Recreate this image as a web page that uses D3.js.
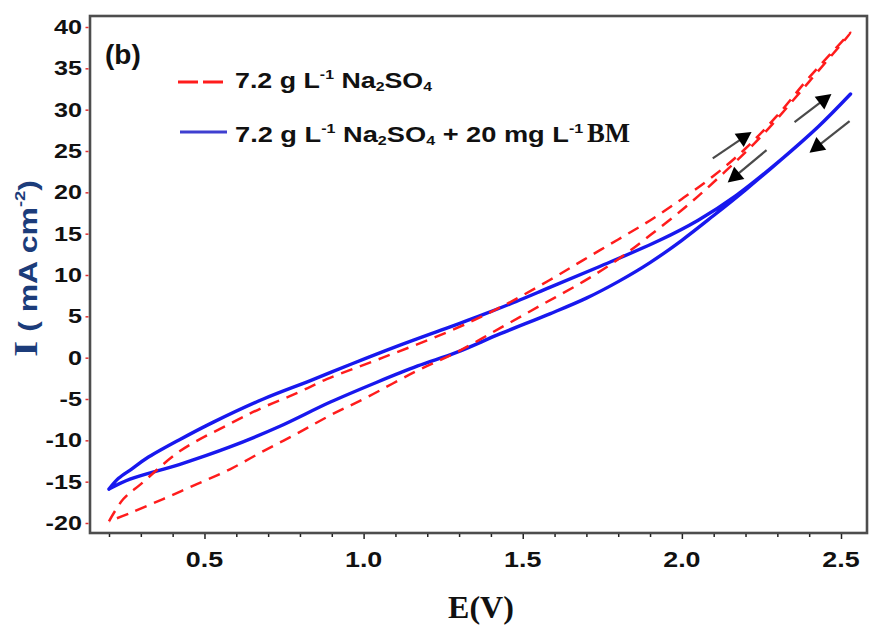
<!DOCTYPE html>
<html>
<head>
<meta charset="utf-8">
<script src="https://cdn.jsdelivr.net/npm/d3@7"></script>
<style>
  html, body { margin: 0; background: #fff; }
  svg { display: block; }
</style>
</head>
<body>
<svg id="chart" width="885" height="634"></svg>
<script>
// Cyclic voltammograms, scan 0.2 V -> 2.53 V -> 0.2 V
// Branch that lies higher at low potential ("upper") and the one lying lower ("lower").
const redUpperE = [0.20, 0.245, 0.30, 0.423, 0.58, 0.685, 0.79, 0.884, 1.06, 1.27, 1.43, 1.585, 1.69, 1.80, 1.90, 2.00, 2.10, 2.20, 2.30, 2.40, 2.53];
const redUpperI = [-19.8, -17.1, -15.3, -11.3, -8.0, -6.0, -4.3, -2.6, 0.0, 3.2, 6.1, 9.4, 11.8, 14.3, 16.6, 19.2, 22.0, 25.3, 29.3, 33.9, 39.3];
const redLowerE = [0.20, 0.266, 0.37, 0.476, 0.58, 0.685, 0.79, 0.894, 1.01, 1.167, 1.29, 1.43, 1.56, 1.69, 1.80, 1.90, 2.02, 2.13, 2.25, 2.40, 2.53];
const redLowerI = [-19.8, -18.8, -17.1, -15.3, -13.5, -11.3, -9.2, -7.0, -4.8, -1.6, 0.6, 3.6, 6.4, 9.2, 11.9, 14.8, 18.5, 22.3, 26.8, 33.4, 39.3];

const blueUpperE = [0.20, 0.23, 0.27, 0.317, 0.423, 0.528, 0.685, 0.831, 0.96, 1.10, 1.27, 1.375, 1.48, 1.585, 1.74, 1.93, 2.05, 2.17, 2.31, 2.43, 2.53];
const blueUpperI = [-15.9, -14.6, -13.5, -12.2, -9.9, -7.8, -5.0, -2.8, -0.8, 1.3, 3.7, 5.2, 6.8, 8.5, 11.0, 14.2, 16.6, 19.6, 23.9, 28.0, 31.9];
const blueLowerE = [0.20, 0.266, 0.423, 0.58, 0.737, 0.894, 1.04, 1.17, 1.29, 1.43, 1.585, 1.70, 1.80, 1.90, 2.00, 2.10, 2.20, 2.31, 2.43, 2.53];
const blueLowerI = [-15.9, -14.7, -12.9, -10.8, -8.3, -5.4, -3.0, -1.0, 0.6, 2.9, 5.3, 7.2, 9.2, 11.5, 14.2, 17.2, 20.3, 23.9, 28.0, 31.9];

// Scan-direction arrows (start -> tip), in E / I units
const arrowFromE = [2.097, 2.266, 2.354, 2.527];
const arrowFromI = [24.1, 25.1, 28.5, 28.6];
const arrowToE   = [2.219, 2.144, 2.470, 2.401];
const arrowToI   = [27.3, 21.2, 31.9, 24.8];

// Axis ticks
const yTicks = [-20, -15, -10, -5, 0, 5, 10, 15, 20, 25, 30, 35, 40];
const xMajorTicks = [0.5, 1.0, 1.5, 2.0, 2.5];
const xMajorLabels = ["0.5", "1.0", "1.5", "2.0", "2.5"];
const xMinorTicks = [0.2, 0.3, 0.4, 0.6, 0.7, 0.8, 0.9, 1.1, 1.2, 1.3, 1.4, 1.6, 1.7, 1.8, 1.9, 2.1, 2.2, 2.3, 2.4];

const RED = "#ff1c1c", BLUE = "#1818ee";

const svg = d3.select("#chart");
const frame = { left: 90, right: 867, top: 16, bottom: 533 };

const x = d3.scaleLinear().domain([0.2, 2.5]).range([109, 841]);
const y = d3.scaleLinear().domain([-20, 40]).range([523, 27]);

const SANS = "'Liberation Sans', Arial, sans-serif";
const SERIF = "'Liberation Serif', 'Times New Roman', serif";

// Sequential rich text: each part is its own <text> so it can be sized/shifted/stretched
function rich(parent, parts, transform, targetLen) {
  const g = parent.append("g");
  let cx = 0;
  parts.forEach(p => {
    const sx = p.sx || 1;
    const t = g.append("text")
      .attr("transform", `translate(${cx},${p.dy || 0}) scale(${sx},1)`)
      .attr("font-family", p.family || SANS)
      .attr("font-weight", p.weight || "bold")
      .attr("font-size", p.size)
      .attr("fill", p.fill || "#111")
      .style("white-space", "pre")
      .attr("xml:space", "preserve")
      .text(p.t);
    cx += t.node().getComputedTextLength() * sx + (p.gap || 0);
  });
  const s = targetLen ? targetLen / cx : 1;
  g.attr("transform", `${transform} scale(${s},1)`);
  return g;
}

// --- curves ---
function loopPoints(upE, upI, loE, loI) {
  const up = upE.map((e, i) => [e, upI[i]]);
  const lo = loE.map((e, i) => [e, loI[i]]).reverse().slice(1);
  return up.concat(lo);
}
const line = d3.line().x(d => x(d[0])).y(d => y(d[1])).curve(d3.curveCatmullRom.alpha(0.5));

svg.append("path")
  .datum(loopPoints(blueUpperE, blueUpperI, blueLowerE, blueLowerI))
  .attr("d", line)
  .attr("fill", "none").attr("stroke", BLUE).attr("stroke-width", 3.4)
  .attr("stroke-linejoin", "round").attr("stroke-linecap", "round");

svg.append("path")
  .datum(loopPoints(redUpperE, redUpperI, redLowerE, redLowerI))
  .attr("d", line)
  .attr("fill", "none").attr("stroke", RED).attr("stroke-width", 2.5)
  .attr("stroke-dasharray", "12,8");

// --- arrows ---
arrowFromE.forEach((e0, i) => {
  const x0 = x(e0), y0 = y(arrowFromI[i]);
  const x1 = x(arrowToE[i]), y1 = y(arrowToI[i]);
  const dx = x1 - x0, dy = y1 - y0, L = Math.hypot(dx, dy);
  const ux = dx / L, uy = dy / L;
  const hl = 15, hw = 8;
  const bx = x1 - ux * hl, by = y1 - uy * hl;
  svg.append("line")
    .attr("x1", x0).attr("y1", y0).attr("x2", bx + ux * 2).attr("y2", by + uy * 2)
    .attr("stroke", "#4a4a4a").attr("stroke-width", 2.2);
  svg.append("path")
    .attr("d", `M${x1},${y1}L${bx - uy * hw},${by + ux * hw}L${bx + uy * hw},${by - ux * hw}Z`)
    .attr("fill", "#000");
});

// --- frame ---
svg.append("rect")
  .attr("x", frame.left).attr("y", frame.top)
  .attr("width", frame.right - frame.left).attr("height", frame.bottom - frame.top)
  .attr("fill", "none").attr("stroke", "#4d4d4d").attr("stroke-width", 2.6);

// --- y axis ticks & labels ---
const yAxis = svg.append("g").attr("transform", `translate(${frame.left - 1.5},0)`)
  .call(d3.axisLeft(y).tickValues(yTicks).tickSize(3).tickFormat(""));
yAxis.select(".domain").remove();
yAxis.selectAll(".tick line").attr("stroke", "#e03030").attr("stroke-width", 1.5);

yTicks.forEach(v => {
  svg.append("text")
    .attr("transform", `translate(82,${y(v) + 7}) scale(1.26,1)`)
    .attr("text-anchor", "end")
    .attr("font-family", SANS).attr("font-weight", "bold").attr("font-size", 20)
    .attr("fill", "#111").text(v);
});

// --- x axis ticks & labels ---
const xMinor = svg.append("g").attr("transform", `translate(0,${frame.bottom + 1})`)
  .call(d3.axisBottom(x).tickValues(xMinorTicks).tickSize(3).tickFormat(""));
xMinor.select(".domain").remove();
xMinor.selectAll(".tick line").attr("stroke", "#222").attr("stroke-width", 1.5);
const xMajor = svg.append("g").attr("transform", `translate(0,${frame.bottom + 1})`)
  .call(d3.axisBottom(x).tickValues(xMajorTicks).tickSize(5).tickFormat(""));
xMajor.select(".domain").remove();
xMajor.selectAll(".tick line").attr("stroke", "#222").attr("stroke-width", 1.5);

xMajorTicks.forEach((v, i) => {
  svg.append("text")
    .attr("transform", `translate(${x(v)},567) scale(1.22,1)`)
    .attr("text-anchor", "middle")
    .attr("font-family", SANS).attr("font-weight", "bold").attr("font-size", 22)
    .attr("fill", "#111").text(xMajorLabels[i]);
});

// --- axis titles ---
svg.append("text")
  .attr("x", 481).attr("y", 618).attr("text-anchor", "middle")
  .attr("font-family", SERIF).attr("font-weight", "bold").attr("font-size", 32)
  .attr("fill", "#111").text("E(V)");

const NAVY = "#1c3c7a";
rich(svg, [
  { t: "I", family: SERIF, size: 34, fill: NAVY },
  { t: " ( mA cm", size: 26, fill: NAVY },
  { t: "-2", size: 15, dy: -12, fill: NAVY },
  { t: ")", size: 26, fill: NAVY }
], "translate(37,357) rotate(-90)", 177);

// --- panel tag ---
svg.append("text")
  .attr("x", 105).attr("y", 64)
  .attr("font-family", SANS).attr("font-weight", "bold").attr("font-size", 28)
  .attr("fill", "#111").text("(b)");

// --- legend ---
svg.append("line")
  .attr("x1", 178).attr("x2", 223).attr("y1", 82).attr("y2", 82)
  .attr("stroke", RED).attr("stroke-width", 3).attr("stroke-dasharray", "20,5");
svg.append("line")
  .attr("x1", 180).attr("x2", 227).attr("y1", 132).attr("y2", 132)
  .attr("stroke", "#3f3fd0").attr("stroke-width", 3.2);

function saltParts() {
  return [
    { t: "7.2 g L", size: 22 },
    { t: "-1", size: 13, dy: -9 },
    { t: " Na", size: 22 },
    { t: "2", size: 13, dy: 3 },
    { t: "SO", size: 22 },
    { t: "4", size: 13, dy: 3 }
  ];
}
rich(svg, saltParts(), "translate(235,88)", 197);
rich(svg, saltParts().concat([
  { t: " + 20 mg L", size: 22 },
  { t: "-1", size: 13, dy: -9, gap: 3 },
  { t: "BM", family: SERIF, size: 27, sx: 0.8 }
]), "translate(235,142)", 395);
</script>
</body>
</html>
